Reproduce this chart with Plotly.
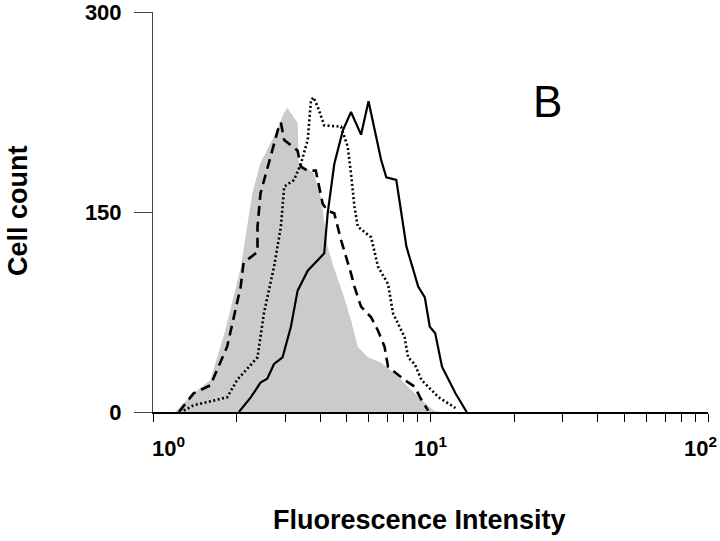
import math
import plotly.graph_objects as go

# Fluorescence intensity (x) and cell counts (y)
gray_x = [1.20, 1.40, 1.61, 1.82, 2.07, 2.28, 2.44, 2.72, 2.96, 3.05, 3.32, 3.35, 3.80,
          4.03, 4.26, 4.49, 4.88, 5.17, 5.47, 5.95, 6.64, 7.41, 8.30, 9.28, 10.3, 10.8]
gray_y = [0, 14, 24, 61, 108, 164, 187, 206, 224, 228, 217, 187, 179,
          161, 124, 108, 86, 69, 49, 41, 37, 29, 19, 9, 1, 0]

dash_x = [1.24, 1.40, 1.61, 1.85, 2.07, 2.12, 2.38, 2.38, 2.44, 2.65, 2.84, 2.89, 2.97,
          3.32, 3.41, 3.61, 3.86, 4.09, 4.26, 4.50, 4.76, 5.17, 5.32, 5.62, 6.11, 6.47,
          6.83, 7.03, 8.07, 8.77, 9.28, 9.81]
dash_y = [0, 14, 20, 49, 94, 112, 120, 139, 164, 191, 214, 217, 204,
          196, 184, 181, 181, 156, 151, 149, 129, 104, 94, 79, 71, 61,
          49, 34, 24, 19, 9, 1]

dot_x = [1.29, 1.40, 1.85, 2.01, 2.38, 2.51, 2.73, 2.89, 2.97, 3.22, 3.41, 3.61, 3.71,
         3.79, 3.92, 4.14, 4.76, 5.03, 5.17, 5.32, 5.47, 6.11, 6.47, 7.03, 7.33, 8.07,
         8.30, 8.77, 9.28, 10.7, 12.3]
dot_y = [1, 5, 11, 24, 41, 74, 109, 139, 169, 174, 186, 204, 234,
         236, 229, 215, 214, 199, 179, 154, 139, 131, 109, 96, 74, 56,
         41, 36, 24, 11, 3]

solid_x = [2.04, 2.25, 2.44, 2.58, 2.73, 2.93, 3.14, 3.32, 3.61, 4.14, 4.26, 4.50, 4.83,
           5.17, 5.62, 5.98, 6.64, 6.93, 7.53, 8.19, 9.03, 9.54, 9.94, 10.4, 11.0, 12.3, 13.5]
solid_y = [0, 11, 22, 25, 36, 41, 64, 91, 106, 119, 149, 186, 211,
           225, 208, 233, 189, 176, 174, 124, 94, 86, 64, 59, 34, 14, 0]

x_tickvals = [1, 2, 3, 4, 5, 6, 7, 8, 9, 10, 20, 30, 40, 50, 60, 70, 80, 90, 100]
x_labelvals = [1, 10, 100]
x_labeltext = ["10<sup>0</sup>", "10<sup>1</sup>", "10<sup>2</sup>"]
y_tickvals = [0, 150, 300]

FONT = "Liberation Sans, Arial, Helvetica, sans-serif"

fig = go.Figure()
fig.add_trace(go.Scatter(x=gray_x, y=gray_y, mode="lines", fill="tozeroy",
                         fillcolor="#cbcbcb", line=dict(width=0, color="#cbcbcb"),
                         showlegend=False, hoverinfo="skip"))
fig.add_trace(go.Scatter(x=dash_x, y=dash_y, mode="lines",
                         line=dict(color="black", width=2.6, dash="10px,6px"),
                         showlegend=False))
fig.add_trace(go.Scatter(x=dot_x, y=dot_y, mode="lines",
                         line=dict(color="black", width=2.6, dash="2px,2.5px"),
                         showlegend=False))
fig.add_trace(go.Scatter(x=solid_x, y=solid_y, mode="lines",
                         line=dict(color="black", width=2.2),
                         showlegend=False))

fig.update_layout(
    width=720, height=541,
    margin=dict(l=153, r=12, t=12, b=129, autoexpand=False),
    paper_bgcolor="white", plot_bgcolor="white",
    font=dict(family=FONT, color="black"),
    showlegend=False,
)
fig.update_xaxes(
    type="log", range=[0, 2], automargin=False,
    tickvals=x_tickvals, ticktext=[""] * len(x_tickvals),
    ticks="outside", ticklen=8, tickwidth=1.3, tickcolor="black",
    showline=True, linecolor="black", linewidth=1.5,
    showgrid=False, zeroline=False,
)
fig.update_yaxes(
    range=[0, 300], tickvals=y_tickvals, automargin=False,
    ticks="outside", ticklen=18, tickwidth=1, tickcolor="#444444",
    showline=True, linecolor="#444444", linewidth=1,
    showgrid=False, zeroline=False,
    tickfont=dict(family=FONT, size=22, color="black", weight="bold"),
    ticklabelstandoff=8, ticklabeloverflow="allow",
)

# decade labels of the log axis, nudged as in the reference
label_shift = [15, 0, -8]
for v, t, s in zip(x_labelvals, x_labeltext, label_shift):
    fig.add_annotation(text="<b>" + t + "</b>", xref="x", yref="paper",
                       x=math.log10(v), y=(412 - 447) / 400, xshift=s,
                       showarrow=False, xanchor="center", yanchor="middle",
                       font=dict(family=FONT, size=22, color="black"))

fig.add_annotation(text="<b>Fluorescence Intensity</b>", xref="paper", yref="paper",
                   x=(419 - 153) / 555, y=(412 - 520) / 400, showarrow=False,
                   font=dict(family=FONT, size=27, color="black"),
                   xanchor="center", yanchor="middle")
fig.add_annotation(text="<b>Cell count</b>", xref="paper", yref="paper",
                   x=(18 - 153) / 555, y=(412 - 211) / 400, showarrow=False,
                   textangle=-90,
                   font=dict(family=FONT, size=27, color="black"),
                   xanchor="center", yanchor="middle")
fig.add_annotation(text="B", xref="paper", yref="paper",
                   x=(547 - 153) / 555, y=(412 - 102) / 400, showarrow=False,
                   font=dict(family=FONT, size=44, color="black"),
                   xanchor="center", yanchor="middle")

fig.write_html("out.html",
               config={"displayModeBar": False},
               post_script="document.body.style.margin='0px';"
                           "document.body.style.overflow='hidden';")
